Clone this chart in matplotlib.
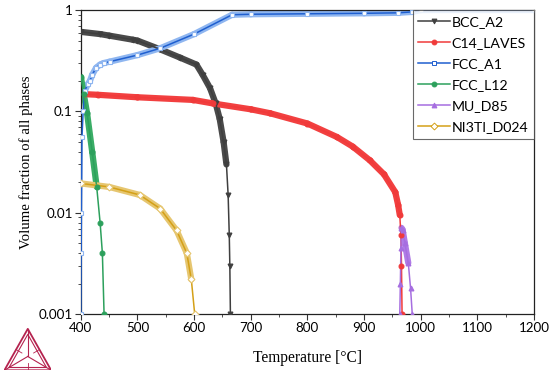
import matplotlib

matplotlib.use("Agg")
import matplotlib.pyplot as plt
import numpy as np
from matplotlib.ticker import FixedLocator, FuncFormatter, LogLocator, NullFormatter

# --- data (temperature in degC, volume fraction) ---
bcc_t = [400, 434, 450, 492, 500, 540, 575, 604, 615, 628, 638, 645, 652, 657, 660, 662, 663, 664]
bcc_v = [0.61, 0.58, 0.56, 0.51, 0.50, 0.41, 0.34, 0.29, 0.23, 0.17, 0.12, 0.085, 0.05, 0.03, 0.015, 0.006, 0.003, 0.001]

c14_t = [408, 430, 500, 598, 633, 700, 734, 800, 852, 880, 910, 935, 955, 960, 963, 965, 966, 967]
c14_v = [0.148, 0.146, 0.138, 0.13, 0.12, 0.105, 0.096, 0.076, 0.056, 0.045, 0.033, 0.024, 0.016, 0.012, 0.0095, 0.006, 0.003, 0.001]

fcc_a1_t = [400, 400.5, 401, 402, 404, 407, 412, 416, 420, 427, 434, 440, 451, 500, 540, 600, 667, 700, 800, 900, 960, 985, 1000, 1200]
fcc_a1_v = [0.001, 0.004, 0.01, 0.056, 0.1, 0.16, 0.185, 0.2, 0.23, 0.27, 0.29, 0.30, 0.31, 0.36, 0.42, 0.58, 0.90, 0.91, 0.92, 0.93, 0.94, 0.96, 1.0, 1.0]

fcc_l12_t = [400, 405, 411, 420, 428, 434, 438, 441]
fcc_l12_v = [0.22, 0.15, 0.096, 0.04, 0.018, 0.008, 0.004, 0.001]

mu_t = [963, 964, 965, 966, 968, 972, 978, 982, 985]
mu_v = [0.001, 0.002, 0.0045, 0.0071, 0.0068, 0.005, 0.0032, 0.0018, 0.001]

ni3ti_t = [400, 450, 504, 540, 569, 587, 595, 601]
ni3ti_v = [0.0195, 0.018, 0.015, 0.011, 0.0067, 0.004, 0.0022, 0.001]

series = [
    ("BCC_A2", bcc_t, bcc_v, "#3f3f3f", "v", "#3f3f3f"),
    ("C14_LAVES", c14_t, c14_v, "#f03a3a", "o", "#f03a3a"),
    ("FCC_A1", fcc_a1_t, fcc_a1_v, "#1f5fd0", "s", "none"),
    ("FCC_L12", fcc_l12_t, fcc_l12_v, "#2ca05c", "o", "#2ca05c"),
    ("MU_D85", mu_t, mu_v, "#a66ee0", "^", "#a66ee0"),
    ("NI3TI_D024", ni3ti_t, ni3ti_v, "#d4a017", "D", "none"),
]
band_colors = {
    "BCC_A2": "#4a4a4a",
    "C14_LAVES": "#f24040",
    "FCC_A1": "#8fb6f0",
    "FCC_L12": "#3aad66",
    "MU_D85": "#b07ce6",
    "NI3TI_D024": "#e6c670",
}

fig = plt.figure(figsize=(5.5, 3.74), dpi=100)
ax = fig.add_axes([0.147, 0.160, 0.824, 0.813])
ax.set_yscale("log")
ax.set_xlim(400, 1200)
ax.set_ylim(0.001, 1)

# pixel scale, used to decide where the dense marker band shows up
px_per_deg = 0.824 * 550 / 800
px_per_dec = 0.813 * 374 / 3

for name, t, v, color, marker, face in series:
    t = np.asarray(t, float)
    lv = np.log10(v)
    # markers are packed into a band only where the curve is not too steep
    for i in range(len(t) - 1):
        dx = abs(t[i + 1] - t[i]) * px_per_deg
        dy = abs(lv[i + 1] - lv[i]) * px_per_dec
        if dy <= 9 * max(dx, 1e-6):
            ax.plot(t[i:i + 2], v[i:i + 2], color=band_colors[name], lw=4.5,
                    solid_capstyle="round", zorder=2)
    ax.plot(t, v, color=color, lw=1.1, zorder=3)
    ax.plot(t, v, ls="none", marker=marker, ms=3.5, mec=color if face != "none" else band_colors[name],
            mfc=face if face != "none" else "white", mew=0.8, zorder=4)

ax.xaxis.set_major_locator(FixedLocator(np.arange(400, 1201, 100)))
ax.xaxis.set_minor_locator(FixedLocator(np.arange(450, 1200, 100)))
ax.yaxis.set_major_locator(LogLocator(base=10, numticks=10))
ax.yaxis.set_minor_locator(LogLocator(base=10, subs=np.arange(2, 10), numticks=10))
ax.yaxis.set_major_formatter(FuncFormatter(lambda y, _: f"{y:g}"))
ax.yaxis.set_minor_formatter(NullFormatter())

for lab in ax.get_xticklabels() + ax.get_yticklabels():
    lab.set_fontfamily("Lato")
    lab.set_fontsize(9.6)
ax.tick_params(which="major", direction="out", length=4, width=0.8, color="#333333", pad=2)
ax.tick_params(which="minor", direction="out", length=2.5, width=0.6, color="#333333")
for sp in ax.spines.values():
    sp.set_color("#222222")
    sp.set_linewidth(0.9)

ax.set_xlabel("Temperature [\u00b0C]", family="Liberation Serif", fontsize=11.2, labelpad=11)
ax.set_ylabel("Volume fraction of all phases", family="Liberation Serif", fontsize=10.6, labelpad=4)

handles = []
for name, t, v, color, marker, face in series:
    (h,) = ax.plot([], [], color=color, lw=1.1, marker=marker, ms=3.5,
                   mfc=face if face != "none" else "white", mec=color, mew=0.7)
    handles.append(h)
leg = ax.legend(handles, [s[0] for s in series], loc="upper right", bbox_to_anchor=(1.0, 1.0),
                frameon=True, fancybox=False, borderaxespad=0, handlelength=2.2,
                handletextpad=0.15, labelspacing=0.64, borderpad=0.4,
                prop={"family": "Lato", "size": 10.2})
leg.get_frame().set_edgecolor("#444444")
leg.get_frame().set_linewidth(0.8)

# Thermo-Calc style logo in the lower left corner
logo = fig.add_axes([0.008, 0.010, 0.085, 0.115])
logo.set_xlim(0, 1)
logo.set_ylim(0, 0.9)
logo.axis("off")
lc = "#b5234f"
A, B, C = np.array([0.0, 0.0]), np.array([1.0, 0.0]), np.array([0.5, 0.866])
G = (A + B + C) / 3
outer = np.array([A, B, C, A])
logo.plot(outer[:, 0], outer[:, 1], color=lc, lw=1.3)
inner = np.array([A * 0.8 + G * 0.2, B * 0.8 + G * 0.2, C * 0.8 + G * 0.2])
inner = np.vstack([inner, inner[0]])
logo.plot(inner[:, 0], inner[:, 1], color=lc, lw=0.8)
for P in (A, B, C):
    logo.plot([P[0], G[0]], [P[1], G[1]], color=lc, lw=0.8)
for m in [(A + B) / 2, (B + C) / 2, (C + A) / 2]:
    mm = (m + G) / 2
    logo.plot([m[0], mm[0]], [m[1], mm[1]], color=lc, lw=0.6)

fig.savefig("out.png", dpi=100)
